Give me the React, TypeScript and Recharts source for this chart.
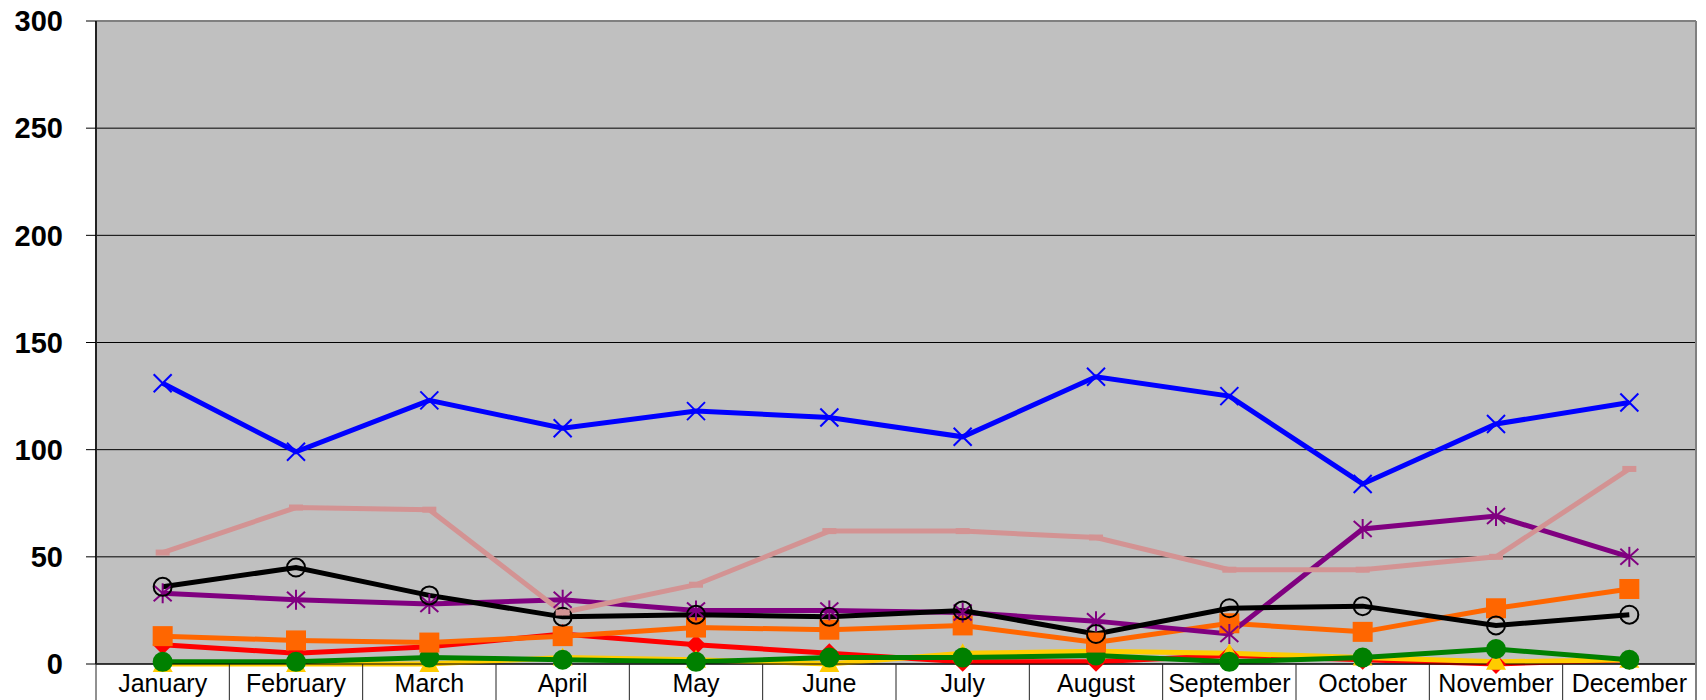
import React from "react";
import {
  LineChart,
  Line,
  XAxis,
  YAxis,
  CartesianGrid,
  ReferenceLine,
} from "recharts";

const months = [
  "January",
  "February",
  "March",
  "April",
  "May",
  "June",
  "July",
  "August",
  "September",
  "October",
  "November",
  "December",
];

const blueSeries = [131, 99, 123, 110, 118, 115, 106, 134, 125, 84, 112, 122];
const pinkSeries = [52, 73, 72, 24, 37, 62, 62, 59, 44, 44, 50, 91];
const purpleSeries = [33, 30, 28, 30, 25, 25, 24, 20, 14, 63, 69, 50];
const blackSeries = [36, 45, 32, 22, 23, 22, 25, 14, 26, 27, 18, 23];
const orangeSeries = [13, 11, 10, 13, 17, 16, 18, 10, 19, 15, 26, 35];
const redSeries = [9, 5, 8, 14, 9, 5, 1, 1, 4, 2, 0, 2];
const yellowSeries = [0, 0, 0, 3, 2, 0, 5, 6, 5, 3, 1, 2];
const greenSeries = [1, 1, 3, 2, 1, 3, 3, 4, 1, 3, 7, 2];

const yTicks = [0, 50, 100, 150, 200, 250, 300];

const chartData = months.map((m, i) => ({
  month: m,
  red: redSeries[i],
  yellow: yellowSeries[i],
  green: greenSeries[i],
  orange: orangeSeries[i],
  purple: purpleSeries[i],
  black: blackSeries[i],
  pink: pinkSeries[i],
  blue: blueSeries[i],
}));

const CHART_W = 1706;
const CHART_H = 700;
const PLOT_LEFT = 96;
const PLOT_RIGHT_GAP = 10;
const BAND = (CHART_W - PLOT_LEFT - PLOT_RIGHT_GAP) / months.length;
const FONT = "Arial, 'Liberation Sans', sans-serif";

type Shape = "x" | "ring" | "star" | "square" | "diamond" | "triangle" | "dot" | "dash";

function Marker({ cx, cy, shape, color }: { cx: number; cy: number; shape: Shape; color: string }) {
  if (cx == null || cy == null) return null;
  switch (shape) {
    case "x":
      return (
        <g stroke={color} strokeWidth={2}>
          <line x1={cx - 9} y1={cy - 9} x2={cx + 9} y2={cy + 9} />
          <line x1={cx - 9} y1={cy + 9} x2={cx + 9} y2={cy - 9} />
        </g>
      );
    case "ring":
      return <circle cx={cx} cy={cy} r={9} fill="none" stroke={color} strokeWidth={2} />;
    case "star":
      return (
        <g stroke={color} strokeWidth={2}>
          <line x1={cx - 9} y1={cy - 8} x2={cx + 9} y2={cy + 8} />
          <line x1={cx - 9} y1={cy + 8} x2={cx + 9} y2={cy - 8} />
          <line x1={cx} y1={cy - 10} x2={cx} y2={cy + 10} />
        </g>
      );
    case "square":
      return <rect x={cx - 10} y={cy - 10} width={20} height={20} fill={color} />;
    case "diamond":
      return (
        <polygon
          points={`${cx},${cy - 10} ${cx + 10},${cy} ${cx},${cy + 10} ${cx - 10},${cy}`}
          fill={color}
        />
      );
    case "triangle":
      return (
        <polygon
          points={`${cx},${cy - 10} ${cx + 10},${cy + 8} ${cx - 10},${cy + 8}`}
          fill={color}
        />
      );
    case "dot":
      return <circle cx={cx} cy={cy} r={10} fill={color} />;
    case "dash":
      return <rect x={cx - 7} y={cy - 3} width={14} height={6} fill={color} />;
  }
  return null;
}

function dotFor(shape: Shape, color: string) {
  return (props: any) => (
    <Marker key={`${shape}-${props.index}`} cx={props.cx} cy={props.cy} shape={shape} color={color} />
  );
}

function MonthTick({ x, y, payload, index }: any) {
  const half = BAND / 2;
  return (
    <g>
      <line x1={x - half} x2={x - half} y1={y} y2={y + 40} stroke="#222" strokeWidth={1} />
      {index === months.length - 1 && (
        <line x1={x + half} x2={x + half} y1={y} y2={y + 40} stroke="#808080" strokeWidth={2} />
      )}
      <text
        x={x}
        y={y + 28}
        textAnchor="middle"
        fontSize={25}
        fontFamily={FONT}
        fill="#000"
      >
        {payload.value}
      </text>
    </g>
  );
}

const series: { key: string; color: string; shape: Shape }[] = [
  { key: "red", color: "#FF0000", shape: "diamond" },
  { key: "yellow", color: "#FFCC00", shape: "triangle" },
  { key: "green", color: "#008000", shape: "dot" },
  { key: "orange", color: "#FF6600", shape: "square" },
  { key: "purple", color: "#800080", shape: "star" },
  { key: "black", color: "#000000", shape: "ring" },
  { key: "pink", color: "#D39393", shape: "dash" },
  { key: "blue", color: "#0000FF", shape: "x" },
];

export default function App() {
  return (
    <div style={{ position: "absolute", left: 0, top: 0, background: "#fff" }}>
      <LineChart
        width={CHART_W}
        height={CHART_H}
        data={chartData}
        margin={{ top: 21, right: 0, left: 0, bottom: 0 }}
      >
        <CartesianGrid
          fill="#C0C0C0"
          stroke="#000"
          strokeWidth={1}
          vertical={false}
        />
        <XAxis
          dataKey="month"
          scale="band"
          height={36}
          tickSize={0}
          tickMargin={0}
          tickLine={false}
          axisLine={{ stroke: "#000", strokeWidth: 1 }}
          interval={0}
          tick={<MonthTick />}
        />
        <YAxis
          width={PLOT_LEFT}
          domain={[0, 300]}
          ticks={yTicks}
          interval={0}
          tickSize={10}
          tickMargin={23}
          tickLine={{ stroke: "#000" }}
          axisLine={{ stroke: "#222", strokeWidth: 2 }}
          tick={{ fontSize: 29, fontWeight: 700, fill: "#000", fontFamily: FONT }}
        />
        <YAxis
          yAxisId="r"
          orientation="right"
          width={PLOT_RIGHT_GAP}
          domain={[0, 300]}
          tick={false}
          tickLine={false}
          axisLine={{ stroke: "#808080", strokeWidth: 2 }}
        />
        <ReferenceLine y={300} stroke="#808080" strokeWidth={2} />
        {series.map((s) => (
          <Line
            key={s.key}
            type="linear"
            dataKey={s.key}
            stroke={s.color}
            strokeWidth={5}
            dot={dotFor(s.shape, s.color)}
            activeDot={false}
            isAnimationActive={false}
          />
        ))}
      </LineChart>
    </div>
  );
}
